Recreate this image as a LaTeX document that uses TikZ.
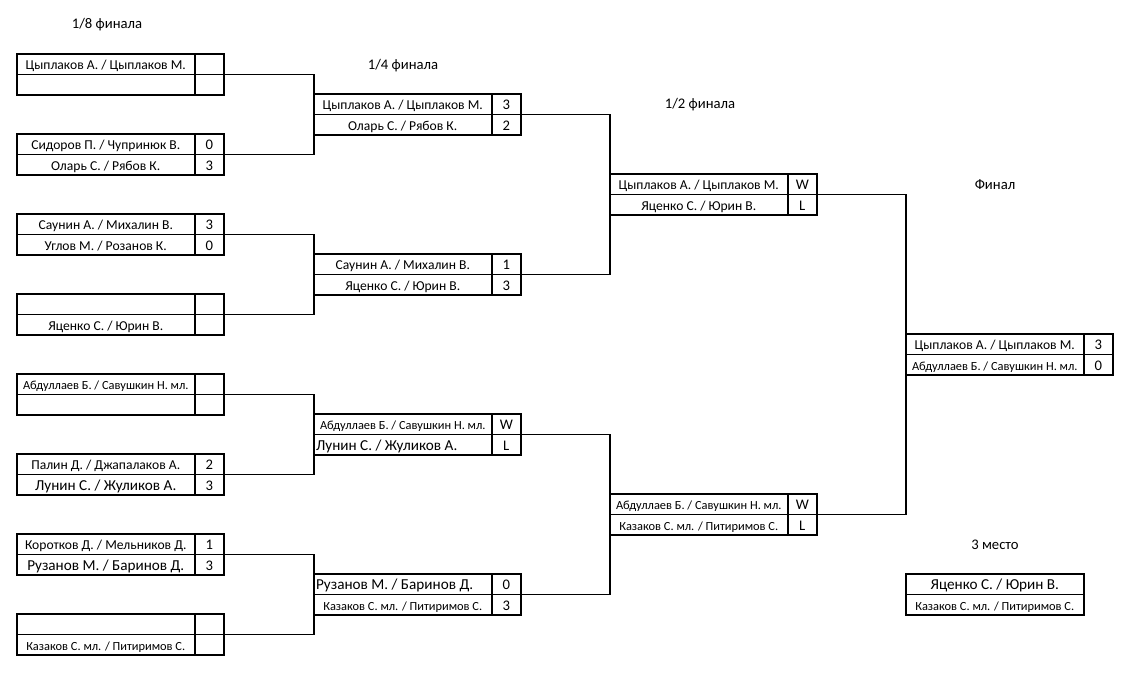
\documentclass[tikz,border=0pt]{standalone}
\usepackage{fontspec}
\setmainfont{Carlito}
\newcommand{\fA}{\fontsize{10.2}{12}\selectfont}
\newcommand{\fH}{\fontsize{11}{13}\selectfont}
\newcommand{\fS}{\fontsize{9.3}{11}\selectfont}
\newcommand{\fL}{\fontsize{11.4}{13}\selectfont}
\newcommand{\lft}[1]{\makebox[130pt][l]{#1}}
\tikzset{
  namecell/.style={minimum width=132.75pt, minimum height=15pt, inner sep=0pt, text height=8pt, text depth=0pt, font=\fA},
  scorecell/.style={minimum width=21.75pt, minimum height=15pt, inner sep=0pt, text height=8pt, text depth=0pt, font=\fH},
  thickline/.style={line width=1.5pt},
  thinline/.style={line width=0.8pt},
  conn/.style={line width=1pt},
  header/.style={font=\fH, inner sep=0pt}
}
\newcommand{\bracketbox}[7]{%
  \node[namecell, anchor=north west] (#1-t) at (#2,#3) {#4};
  \node[namecell, anchor=north west] (#1-b) at (#1-t.south west) {#6};
  \node[scorecell, anchor=north west] (#1-ts) at (#1-t.north east) {#5};
  \node[scorecell, anchor=north west] (#1-bs) at (#1-b.north east) {#7};
  \draw[thinline] (#1-t.south west) -- (#1-ts.south east);
  \draw[thickline] (#1-t.north west) rectangle (#1-bs.south east);
  \draw[thickline] (#1-t.north east) -- (#1-b.south east);
}
\begin{document}
\begin{tikzpicture}[x=0.75pt,y=-0.75pt]
\useasboundingbox (0,0) rectangle (1134,672);
% headers
\node[header] (h1) at (107,25) {1/8 финала};
\node[header] (h2) at (403,66) {1/4 финала};
\node[header] (h3) at (700,105) {1/2 финала};
\node[header] (h4) at (995,185) {Финал};
\node[header] (h5) at (995,545) {3 место};
% round of 16
\bracketbox{b1}{17}{54}{Цыплаков А. / Цыплаков М.}{}{}{}
\bracketbox{b2}{17}{134}{Сидоров П. / Чупринюк В.}{0}{Оларь С. / Рябов К.}{3}
\bracketbox{b3}{17}{214}{Саунин А. / Михалин В.}{3}{Углов М. / Розанов К.}{0}
\bracketbox{b4}{17}{294}{}{}{Яценко С. / Юрин В.}{}
\bracketbox{b5}{17}{374}{\fS Абдуллаев Б. / Савушкин Н. мл.}{}{}{}
\bracketbox{b6}{17}{454}{Палин Д. / Джапалаков А.}{2}{\fL Лунин С. / Жуликов А.}{3}
\bracketbox{b7}{17}{534}{Коротков Д. / Мельников Д.}{1}{\fL Рузанов М. / Баринов Д.}{3}
\bracketbox{b8}{17}{614}{}{}{\fS Казаков С. мл. / Питиримов С.}{}
% quarter finals
\bracketbox{q1}{314}{94}{Цыплаков А. / Цыплаков М.}{3}{Оларь С. / Рябов К.}{2}
\bracketbox{q2}{314}{254}{Саунин А. / Михалин В.}{1}{Яценко С. / Юрин В.}{3}
\bracketbox{q3}{314}{414}{\fS Абдуллаев Б. / Савушкин Н. мл.}{W}{\fL\lft{Лунин С. / Жуликов А.}}{L}
\bracketbox{q4}{314}{574}{\fL\lft{Рузанов М. / Баринов Д.}}{0}{\fS Казаков С. мл. / Питиримов С.}{3}
% semi finals
\bracketbox{s1}{610}{174}{Цыплаков А. / Цыплаков М.}{W}{Яценко С. / Юрин В.}{L}
\bracketbox{s2}{610}{494}{\fS Абдуллаев Б. / Савушкин Н. мл.}{W}{\fS Казаков С. мл. / Питиримов С.}{L}
% final
\bracketbox{f}{906}{334}{Цыплаков А. / Цыплаков М.}{3}{\fS Абдуллаев Б. / Савушкин Н. мл.}{0}
% third place
\node[namecell, anchor=north west, font=\fL] (t-t) at (906,574) {Яценко С. / Юрин В.};
\node[namecell, anchor=north west, font=\fS] (t-b) at (t-t.south west) {Казаков С. мл. / Питиримов С.};
\draw[thinline] (t-t.south west) -- (t-t.south east);
\draw[thickline] (t-t.north west) rectangle (t-b.south east);
% connectors
\draw[conn] (b1-ts.south east) -| (q1-t.south west) |- (b2-ts.south east);
\draw[conn] (b3-ts.south east) -| (q2-t.south west) |- (b4-ts.south east);
\draw[conn] (b5-ts.south east) -| (q3-t.south west) |- (b6-ts.south east);
\draw[conn] (b7-ts.south east) -| (q4-t.south west) |- (b8-ts.south east);
\draw[conn] (q1-ts.south east) -| (s1-t.south west) |- (q2-ts.south east);
\draw[conn] (q3-ts.south east) -| (s2-t.south west) |- (q4-ts.south east);
\draw[conn] (s1-ts.south east) -| (f-t.south west) |- (s2-ts.south east);
\end{tikzpicture}
\end{document}
